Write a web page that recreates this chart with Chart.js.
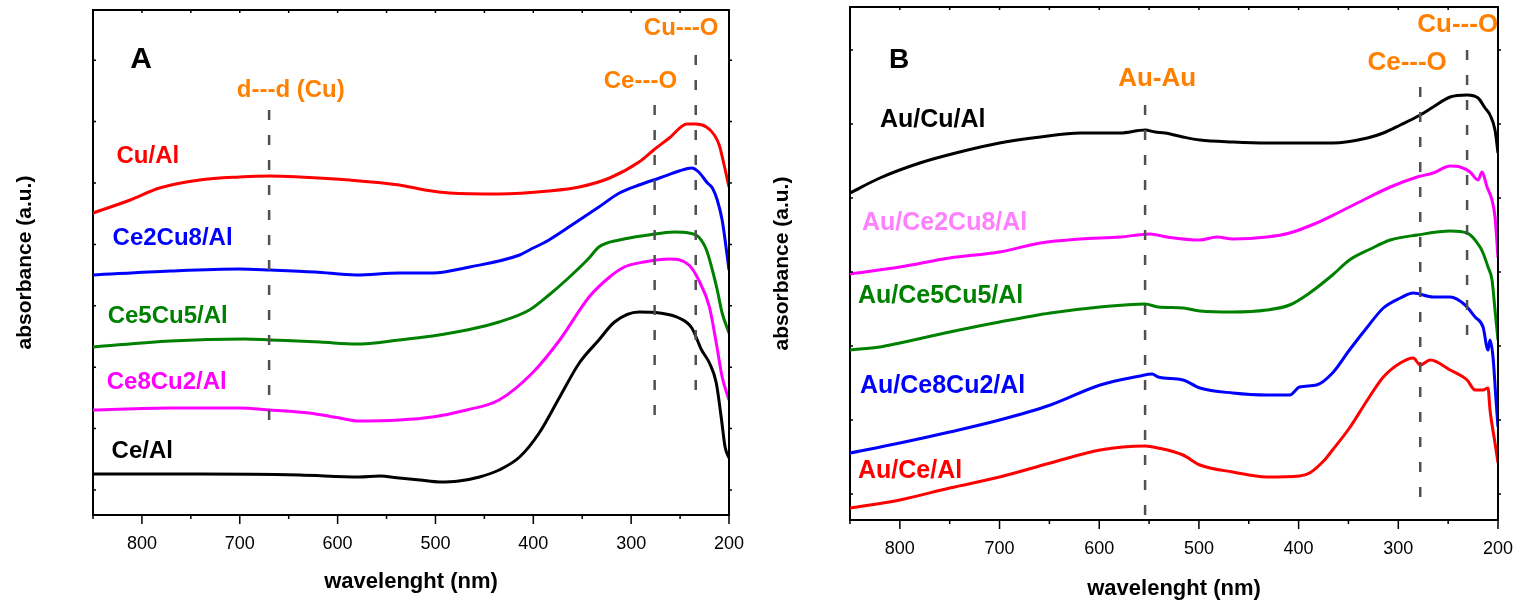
<!DOCTYPE html>
<html>
<head>
<meta charset="utf-8">
<title>UV-vis spectra</title>
<script src="https://cdn.jsdelivr.net/npm/chart.js@4.4.1/dist/chart.umd.min.js"></script>
<style>
  body { margin: 0; background: #fff; }
  #wrapA { position: absolute; left: 0; top: 0; width: 760px; height: 607px; }
  #wrapB { position: absolute; left: 760px; top: 0; width: 774px; height: 607px; }
</style>
</head>
<body>
<div id="wrapA"><canvas id="chartA"></canvas></div>
<div id="wrapB"><canvas id="chartB"></canvas></div>
<script>
const FONT = '"Liberation Sans", Arial, sans-serif';
const ORANGE = '#ff8000';

// ---- panel A : supports ----
const wlCuAl = [850, 812, 782, 741, 700, 669, 639, 588, 537, 511, 486, 435, 384, 353, 322, 292, 277, 261, 243, 234, 223, 215, 210, 205, 200];
const absCuAl = [302, 315, 327, 335, 338, 339, 338, 335, 330, 325, 322, 321, 324, 328, 337, 353, 365, 377, 391, 391, 388, 380, 370, 350, 328];

const wlCe2Cu8 = [850, 771, 700, 669, 623, 581, 537, 503, 465, 414, 404, 384, 353, 333, 312, 292, 271, 251, 238, 231, 222, 217, 212, 207, 204, 200];
const absCe2Cu8 = [240, 244, 246, 245, 243, 240, 242, 242, 248, 260, 265, 275, 295, 308, 322, 330, 337, 344, 347, 343, 332, 327, 315, 295, 275, 245];

const wlCe5Cu5 = [850, 771, 695, 669, 618, 581, 537, 503, 468, 435, 404, 384, 363, 343, 333, 312, 282, 256, 241, 231, 223, 217, 212, 207, 200];
const absCe5Cu5 = [168, 174, 176, 175, 173, 171, 175, 179, 185, 193, 205, 220, 238, 257, 268, 275, 280, 283, 282, 278, 265, 245, 225, 202, 182];

const wlCe8Cu2 = [850, 771, 700, 669, 629, 598, 578, 537, 503, 468, 435, 401, 373, 343, 322, 307, 287, 261, 241, 231, 220, 213, 207, 200];
const absCe8Cu2 = [105, 107, 107, 105, 102, 97, 94, 95, 98, 105, 115, 142, 175, 218, 238, 248, 253, 256, 250, 235, 208, 172, 138, 115];

const wlCeAl = [850, 741, 639, 578, 557, 537, 516, 496, 476, 455, 435, 414, 394, 373, 353, 333, 317, 292, 271, 251, 238, 228, 220, 213, 208, 204, 200];
const absCeAl = [41, 41, 40, 38, 39, 37, 35, 33, 34, 38, 45, 58, 82, 118, 152, 175, 193, 203, 202, 197, 187, 165, 152, 132, 98, 68, 57];

// band positions: [wavelength, from, to]
const bandsA = [[670, 95, 407], [276, 100, 412], [234, 125, 463]];

// ---- panel B : gold on supports ----
const wlAuCu = [850, 820, 780, 740, 700, 659, 619, 579, 554, 544, 534, 516, 499, 466, 432, 399, 366, 331, 315, 298, 278, 265, 248, 231, 220, 213, 208, 203, 200];
const absAuCu = [327, 342, 357, 368, 377, 383, 387, 387, 390, 388, 387, 383, 380, 378, 377, 377, 377, 382, 387, 395, 405, 413, 423, 425, 422, 412, 405, 390, 367];

const wlAuCe2Cu8 = [850, 800, 750, 700, 659, 619, 579, 549, 532, 499, 482, 466, 432, 409, 382, 359, 331, 308, 281, 265, 248, 238, 228, 220, 216, 211, 206, 203, 200];
const absAuCe2Cu8 = [246, 253, 262, 268, 277, 281, 283, 286, 283, 280, 283, 281, 283, 287, 297, 308, 322, 333, 343, 347, 354, 353, 348, 340, 348, 333, 320, 303, 262];

const wlAuCe5Cu5 = [850, 820, 800, 750, 700, 649, 599, 554, 541, 516, 499, 466, 432, 409, 389, 366, 349, 328, 308, 281, 248, 231, 218, 215, 210, 206, 203, 200];
const absAuCe5Cu5 = [170, 173, 177, 188, 198, 207, 213, 216, 213, 212, 209, 208, 210, 215, 227, 245, 260, 271, 280, 285, 289, 287, 273, 267, 253, 240, 210, 180];

const wlAuCe8Cu2 = [850, 800, 750, 700, 649, 599, 559, 547, 541, 516, 499, 466, 432, 409, 399, 382, 366, 349, 331, 315, 298, 285, 265, 248, 233, 223, 215, 210, 208, 205, 202, 200];
const absAuCe8Cu2 = [67, 77, 88, 100, 115, 135, 144, 146, 143, 140, 132, 127, 125, 125, 133, 135, 147, 170, 193, 212, 222, 227, 223, 223, 215, 203, 193, 170, 180, 163, 120, 93];

const wlAuCe = [850, 800, 750, 700, 649, 599, 554, 541, 516, 499, 466, 432, 399, 389, 374, 366, 349, 331, 315, 298, 285, 278, 268, 248, 231, 223, 215, 210, 208, 203, 200];
const absAuCe = [12, 20, 32, 43, 57, 70, 74, 72, 65, 55, 48, 43, 44, 47, 60, 70, 92, 120, 143, 157, 162, 155, 160, 150, 140, 130, 130, 132, 110, 77, 57];

const bandsB = [[554, 5, 417], [278, 23, 435], [231, 185, 477]];

// text notes placed in data units: [text, wavelength, absorbance, colour, size]
const notesA = [
  ['A', 812, 447, '#000', 30],
  ['d---d (Cu)', 703, 418, ORANGE, 24],
  ['Ce---O', 328, 427, ORANGE, 24],
  ['Cu---O', 287, 480, ORANGE, 24],
  ['Cu/Al', 826, 352, '#ff0000', 24],
  ['Ce2Cu8/Al', 830, 270, '#0000ff', 24],
  ['Ce5Cu5/Al', 835, 192, '#008000', 24],
  ['Ce8Cu2/Al', 836, 126, '#ff00ff', 24],
  ['Ce/Al', 831, 57, '#000', 24]
];
const notesB = [
  ['B', 811, 452, '#000', 28],
  ['Au-Au', 581, 434, ORANGE, 26],
  ['Ce---O', 331, 450, ORANGE, 26],
  ['Cu---O', 281, 488, ORANGE, 26],
  ['Au/Cu/Al', 820, 393, '#000', 25],
  ['Au/Ce2Cu8/Al', 838, 290, '#ff80ff', 25],
  ['Au/Ce5Cu5/Al', 842, 217, '#008000', 25],
  ['Au/Ce8Cu2/Al', 840, 127, '#0000ff', 25],
  ['Au/Ce/Al', 842, 42, '#ff0000', 25]
];

function pts(xs, ys) {
  return xs.map((x, i) => ({ x: x, y: ys[i] }));
}

function spectrum(label, xs, ys, color) {
  return {
    label: label, data: pts(xs, ys), borderColor: color, borderWidth: 3,
    pointRadius: 0, cubicInterpolationMode: 'monotone', fill: false, order: 1
  };
}

function band(b) {
  return {
    label: 'band ' + b[0], data: [{ x: b[0], y: b[1] }, { x: b[0], y: b[2] }],
    borderColor: '#505050', borderWidth: 2.5, borderDash: [10, 15], pointRadius: 0, order: 0
  };
}

// text labels on the plot
const notesPlugin = {
  id: 'notes',
  afterDatasetsDraw(chart) {
    const { ctx, scales: { x, y } } = chart;
    const list = chart.canvas.id === 'chartA' ? notesA : notesB;
    ctx.save();
    ctx.textAlign = 'left';
    ctx.textBaseline = 'alphabetic';
    list.forEach(n => {
      ctx.font = 'bold ' + n[4] + 'px ' + FONT;
      ctx.fillStyle = n[3];
      ctx.fillText(n[0], x.getPixelForValue(n[1]), y.getPixelForValue(n[2]));
    });
    ctx.restore();
  }
};

// closed box, long/short ticks below, small ticks on the other sides
const framePlugin = {
  id: 'frame',
  afterDraw(chart) {
    const { ctx, chartArea: a, scales: { x, y } } = chart;
    ctx.save();
    ctx.strokeStyle = '#000';
    ctx.lineWidth = 2;
    ctx.beginPath();
    ctx.moveTo(a.left, a.top);
    ctx.lineTo(a.right, a.top);
    ctx.lineTo(a.right, a.bottom);
    ctx.stroke();
    ctx.lineWidth = 1.5;
    ctx.beginPath();
    x.ticks.forEach(t => {
      const px = x.getPixelForValue(t.value);
      ctx.moveTo(px, a.bottom);
      ctx.lineTo(px, a.bottom + (t.value % 100 === 0 ? 9 : 4));
      ctx.moveTo(px, a.top);
      ctx.lineTo(px, a.top + 3);
    });
    y.ticks.forEach(t => {
      const py = y.getPixelForValue(t.value);
      ctx.moveTo(a.left, py);
      ctx.lineTo(a.left + 3, py);
      ctx.moveTo(a.right, py);
      ctx.lineTo(a.right + 3, py);
    });
    ctx.stroke();
    ctx.restore();
  }
};

function makeOptions(cfg) {
  return {
    responsive: true,
    maintainAspectRatio: false,
    animation: false,
    layout: { padding: { top: cfg.top, right: cfg.right, left: 0, bottom: 0 } },
    plugins: { legend: { display: false }, tooltip: { enabled: false } },
    scales: {
      x: {
        type: 'linear', min: 200, max: 850, reverse: true,
        afterFit: s => { s.height = cfg.xh; },
        ticks: {
          stepSize: 50, autoSkip: false, maxRotation: 0, padding: 9, color: '#000',
          font: { family: FONT, size: 18 },
          callback: v => (v % 100 === 0 ? v : '')
        },
        // tick marks come from the frame plugin, this only reserves their room
        grid: { drawOnChartArea: false, drawTicks: true, tickLength: 9, color: 'rgba(0,0,0,0)' },
        border: { display: true, color: '#000', width: 2 },
        title: {
          display: true, text: 'wavelenght (nm)', color: '#000',
          font: { family: FONT, size: 22, weight: 'bold' },
          padding: { top: 0, bottom: cfg.xtPad }
        }
      },
      y: {
        min: 0, max: cfg.ymax,
        afterFit: s => { s.width = cfg.yw; },
        afterBuildTicks: s => {
          const t = [];
          for (let v = cfg.tick0; v < cfg.ymax; v += cfg.tickStep) t.push({ value: v });
          s.ticks = t;
        },
        ticks: { display: false },
        grid: { display: false },
        border: { display: true, color: '#000', width: 2 },
        title: {
          display: true, text: 'absorbance (a.u.)', color: '#000',
          font: { family: FONT, size: 21, weight: 'bold' },
          padding: { top: cfg.ytPad, bottom: 0 }
        }
      }
    }
  };
}

new Chart(document.getElementById('chartA'), {
  type: 'line',
  data: {
    datasets: [
      spectrum('Cu/Al', wlCuAl, absCuAl, '#ff0000'),
      spectrum('Ce2Cu8/Al', wlCe2Cu8, absCe2Cu8, '#0000ff'),
      spectrum('Ce5Cu5/Al', wlCe5Cu5, absCe5Cu5, '#008000'),
      spectrum('Ce8Cu2/Al', wlCe8Cu2, absCe8Cu2, '#ff00ff'),
      spectrum('Ce/Al', wlCeAl, absCeAl, '#000000')
    ].concat(bandsA.map(band))
  },
  options: makeOptions({ top: 10, right: 31, xh: 92, yw: 93, ymax: 505, tick0: 25, tickStep: 61.4, xtPad: 11.8, ytPad: 12.4 }),
  plugins: [notesPlugin, framePlugin]
});

new Chart(document.getElementById('chartB'), {
  type: 'line',
  data: {
    datasets: [
      spectrum('Au/Cu/Al', wlAuCu, absAuCu, '#000000'),
      spectrum('Au/Ce2Cu8/Al', wlAuCe2Cu8, absAuCe2Cu8, '#ff00ff'),
      spectrum('Au/Ce5Cu5/Al', wlAuCe5Cu5, absAuCe5Cu5, '#008000'),
      spectrum('Au/Ce8Cu2/Al', wlAuCe8Cu2, absAuCe8Cu2, '#0000ff'),
      spectrum('Au/Ce/Al', wlAuCe, absAuCe, '#ff0000')
    ].concat(bandsB.map(band))
  },
  options: makeOptions({ top: 7, right: 36, xh: 87, yw: 90, ymax: 513, tick0: 26, tickStep: 74, xtPad: 4.8, ytPad: 9.4 }),
  plugins: [notesPlugin, framePlugin]
});
</script>
</body>
</html>
